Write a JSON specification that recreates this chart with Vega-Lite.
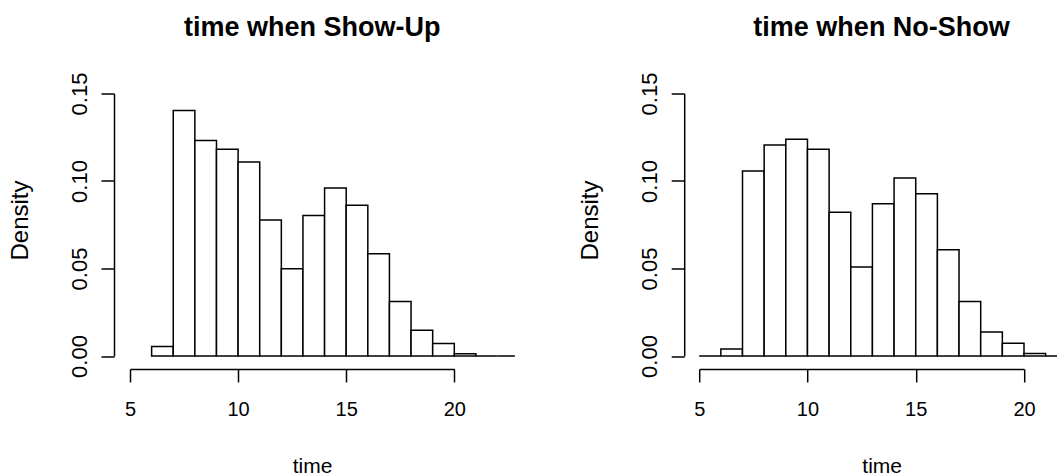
{
  "$schema": "https://vega.github.io/schema/vega-lite/v6.json",
  "autosize": {"type": "none"},
  "padding": {"left": 130, "top": 93.5, "right": 927, "bottom": 381.5},
  "background": "white",
  "datasets": {
    "show": [
      {"start": 6, "end": 7, "density": 0.0055},
      {"start": 7, "end": 8, "density": 0.1403},
      {"start": 8, "end": 9, "density": 0.1231},
      {"start": 9, "end": 10, "density": 0.1181},
      {"start": 10, "end": 11, "density": 0.1109},
      {"start": 11, "end": 12, "density": 0.0777},
      {"start": 12, "end": 13, "density": 0.0498},
      {"start": 13, "end": 14, "density": 0.0803},
      {"start": 14, "end": 15, "density": 0.0960},
      {"start": 15, "end": 16, "density": 0.0861},
      {"start": 16, "end": 17, "density": 0.0584},
      {"start": 17, "end": 18, "density": 0.0311},
      {"start": 18, "end": 19, "density": 0.0147},
      {"start": 19, "end": 20, "density": 0.0071},
      {"start": 20, "end": 21, "density": 0.0013},
      {"start": 21, "end": 22, "density": 0},
      {"start": 22, "end": 22.8, "density": 0}
    ],
    "noshow": [
      {"start": 5, "end": 6, "density": 0},
      {"start": 6, "end": 7, "density": 0.0040},
      {"start": 7, "end": 8, "density": 0.1057},
      {"start": 8, "end": 9, "density": 0.1206},
      {"start": 9, "end": 10, "density": 0.1239},
      {"start": 10, "end": 11, "density": 0.1181},
      {"start": 11, "end": 12, "density": 0.0821},
      {"start": 12, "end": 13, "density": 0.0508},
      {"start": 13, "end": 14, "density": 0.0870},
      {"start": 14, "end": 15, "density": 0.1017},
      {"start": 15, "end": 16, "density": 0.0927},
      {"start": 16, "end": 17, "density": 0.0607},
      {"start": 17, "end": 18, "density": 0.0311},
      {"start": 18, "end": 19, "density": 0.0137},
      {"start": 19, "end": 20, "density": 0.0073},
      {"start": 20, "end": 21, "density": 0.0015},
      {"start": 21, "end": 22, "density": 0},
      {"start": 22, "end": 23, "density": 0}
    ]
  },
  "spacing": 244.2,
  "bounds": "flush",
  "hconcat": [
    {
      "data": {"name": "show"},
      "title": {"text": "time when Show-Up"},
      "width": 324.3,
      "height": 262.5,
      "mark": {"type": "bar", "fill": "white", "stroke": "black", "strokeWidth": 1.5, "clip": false},
      "encoding": {
        "x": {"field": "start", "type": "quantitative", "scale": {"domain": [5, 20], "nice": false, "zero": false}, "axis": {"values": [5, 10, 15, 20], "format": "d", "offset": 13, "title": "time", "titleX": 182, "titleY": 103}},
        "x2": {"field": "end"},
        "y": {"field": "density", "type": "quantitative", "scale": {"domain": [0, 0.15], "nice": false}, "axis": {"values": [0, 0.05, 0.1, 0.15], "format": ".2f", "offset": 16, "title": "Density", "titleX": -87, "titleY": 126.5}},
        "y2": {"datum": 0}
      }
    },
    {
      "data": {"name": "noshow"},
      "title": {"text": "time when No-Show"},
      "width": 324.8,
      "height": 262.5,
      "mark": {"type": "bar", "fill": "white", "stroke": "black", "strokeWidth": 1.5, "clip": false},
      "encoding": {
        "x": {"field": "start", "type": "quantitative", "scale": {"domain": [5, 20], "nice": false, "zero": false}, "axis": {"values": [5, 10, 15, 20], "format": "d", "offset": 13, "title": "time", "titleX": 182.5, "titleY": 103}},
        "x2": {"field": "end"},
        "y": {"field": "density", "type": "quantitative", "scale": {"domain": [0, 0.15], "nice": false}, "axis": {"values": [0, 0.05, 0.1, 0.15], "format": ".2f", "offset": 15, "title": "Density", "titleX": -87, "titleY": 126.5}},
        "y2": {"datum": 0}
      }
    }
  ],
  "config": {
    "view": {"stroke": null},
    "font": "Liberation Sans",
    "title": {"font": "Liberation Sans", "fontSize": 27, "fontWeight": "bold", "color": "black", "anchor": "middle", "dx": 20, "baseline": "alphabetic", "offset": 30},
    "axis": {
      "grid": false,
      "domainColor": "black",
      "domainWidth": 1.5,
      "tickColor": "black",
      "tickWidth": 1.5,
      "tickSize": 13,
      "labelColor": "black",
      "labelFont": "Liberation Sans",
      "labelFontSize": 20,
      "titleColor": "black",
      "titleFont": "Liberation Sans",
      "titleFontSize": 21,
      "titleFontWeight": "normal",
      "titleBaseline": "alphabetic",
      "titleAlign": "center",
      "labelFlush": false,
      "labelOverlap": false
    },
    "axisX": {"labelBaseline": "alphabetic", "labelPadding": 33, "labelAlign": "center"},
    "axisY": {"labelAngle": 270, "labelAlign": "center", "labelBaseline": "alphabetic", "labelPadding": 15, "labelFontSize": 22, "titleFontSize": 24, "titleAngle": 270}
  }
}
